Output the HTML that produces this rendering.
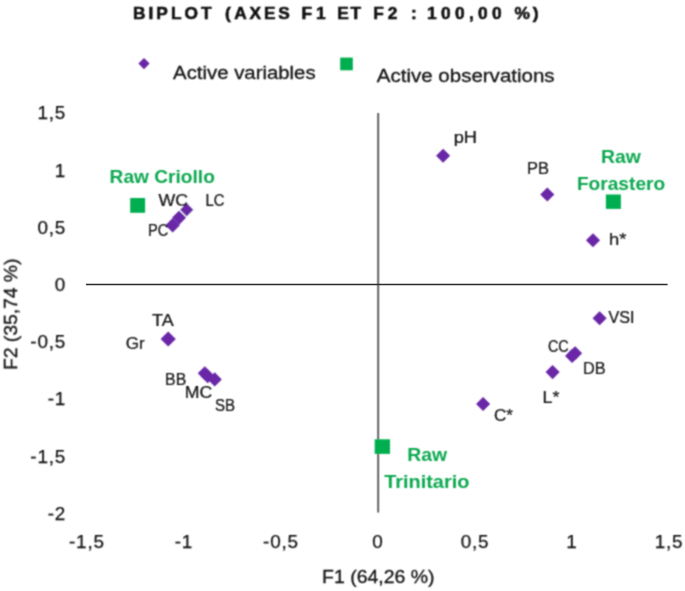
<!DOCTYPE html>
<html lang="fr"><head><meta charset="utf-8"><title>Biplot</title>
<style>
html,body{margin:0;padding:0;background:#fff;}
body{width:685px;height:591px;overflow:hidden;}
svg{display:block;font-family:"Liberation Sans",sans-serif;}
</style></head><body>
<svg width="685" height="591" viewBox="0 0 685 591">
<defs><filter id="soft" x="0" y="0" width="685" height="591" filterUnits="userSpaceOnUse"><feConvolveMatrix order="3" kernelMatrix="1 2 1 2 6 2 1 2 1" divisor="18" edgeMode="duplicate" preserveAlpha="false"/></filter></defs>
<rect width="685" height="591" fill="#fff"/>
<g filter="url(#soft)">
<text transform="translate(132.9 18.7) scale(1.03 1)" x="0" y="0" font-size="16.8" fill="#0a0a0a" font-weight="bold" stroke="#0a0a0a" stroke-width="0.5" textLength="76.5" lengthAdjust="spacing">BIPLOT</text>
<text transform="translate(225.0 18.7) scale(1.03 1)" x="0" y="0" font-size="16.8" fill="#0a0a0a" font-weight="bold" stroke="#0a0a0a" stroke-width="0.5" textLength="5.4" lengthAdjust="spacing">(</text>
<text transform="translate(234.3 18.7) scale(1.03 1)" x="0" y="0" font-size="16.8" fill="#0a0a0a" font-weight="bold" stroke="#0a0a0a" stroke-width="0.5" textLength="53.9" lengthAdjust="spacing">AXES</text>
<text transform="translate(301.6 18.7) scale(1.03 1)" x="0" y="0" font-size="16.8" fill="#0a0a0a" font-weight="bold" stroke="#0a0a0a" stroke-width="0.5" textLength="23.3" lengthAdjust="spacing">F1</text>
<text transform="translate(337.2 18.7) scale(1.03 1)" x="0" y="0" font-size="16.8" fill="#0a0a0a" font-weight="bold" stroke="#0a0a0a" stroke-width="0.5" textLength="23.1" lengthAdjust="spacing">ET</text>
<text transform="translate(373.2 18.7) scale(1.03 1)" x="0" y="0" font-size="16.8" fill="#0a0a0a" font-weight="bold" stroke="#0a0a0a" stroke-width="0.5" textLength="23.4" lengthAdjust="spacing">F2</text>
<text transform="translate(411 18.7) scale(1.03 1)" x="0" y="0" font-size="16.8" fill="#0a0a0a" font-weight="bold" stroke="#0a0a0a" stroke-width="0.5" textLength="3.9" lengthAdjust="spacing">:</text>
<text transform="translate(427.1 18.7) scale(1.03 1)" x="0" y="0" font-size="16.8" fill="#0a0a0a" font-weight="bold" stroke="#0a0a0a" stroke-width="0.5" textLength="72.3" lengthAdjust="spacing">100,00</text>
<text transform="translate(514.5 18.7) scale(1.03 1)" x="0" y="0" font-size="16.8" fill="#0a0a0a" font-weight="bold" stroke="#0a0a0a" stroke-width="0.5" textLength="23.4" lengthAdjust="spacing">%)</text>
<path d="M144 58.0L149.6 63.6L144 69.2L138.4 63.6Z" fill="#6927a7"/>
<text x="173.1" y="79.4" font-size="19.2" fill="#141414" font-weight="normal" textLength="142.5" lengthAdjust="spacingAndGlyphs" stroke="#141414" stroke-width="0.3">Active variables</text>
<rect x="340.2" y="57.6" width="12.6" height="12.7" fill="#04ae50"/>
<text x="376.8" y="82.4" font-size="19.2" fill="#141414" font-weight="normal" textLength="177.8" lengthAdjust="spacingAndGlyphs" stroke="#141414" stroke-width="0.3">Active observations</text>
<line x1="378.2" y1="113" x2="378.2" y2="512.5" stroke="#585858" stroke-width="1.9"/>
<text x="66.1" y="119.3" letter-spacing="0.8" font-size="18.9" fill="#141414" stroke="#141414" stroke-width="0.25" text-anchor="end">1,5</text>
<text x="66.1" y="176.5" letter-spacing="0.8" font-size="18.9" fill="#141414" stroke="#141414" stroke-width="0.25" text-anchor="end">1</text>
<text x="66.1" y="233.7" letter-spacing="0.8" font-size="18.9" fill="#141414" stroke="#141414" stroke-width="0.25" text-anchor="end">0,5</text>
<text x="66.1" y="290.9" letter-spacing="0.8" font-size="18.9" fill="#141414" stroke="#141414" stroke-width="0.25" text-anchor="end">0</text>
<text x="66.1" y="348.1" letter-spacing="0.8" font-size="18.9" fill="#141414" stroke="#141414" stroke-width="0.25" text-anchor="end">-0,5</text>
<text x="66.1" y="405.4" letter-spacing="0.8" font-size="18.9" fill="#141414" stroke="#141414" stroke-width="0.25" text-anchor="end">-1</text>
<text x="66.1" y="462.6" letter-spacing="0.8" font-size="18.9" fill="#141414" stroke="#141414" stroke-width="0.25" text-anchor="end">-1,5</text>
<text x="66.1" y="519.8" letter-spacing="0.8" font-size="18.9" fill="#141414" stroke="#141414" stroke-width="0.25" text-anchor="end">-2</text>
<text x="86.9" y="547.7" letter-spacing="0.8" font-size="18.9" fill="#141414" stroke="#141414" stroke-width="0.25" text-anchor="middle">-1,5</text>
<text x="183.9" y="547.7" letter-spacing="0.8" font-size="18.9" fill="#141414" stroke="#141414" stroke-width="0.25" text-anchor="middle">-1</text>
<text x="281.0" y="547.7" letter-spacing="0.8" font-size="18.9" fill="#141414" stroke="#141414" stroke-width="0.25" text-anchor="middle">-0,5</text>
<text x="378.0" y="547.7" letter-spacing="0.8" font-size="18.9" fill="#141414" stroke="#141414" stroke-width="0.25" text-anchor="middle">0</text>
<text x="475.0" y="547.7" letter-spacing="0.8" font-size="18.9" fill="#141414" stroke="#141414" stroke-width="0.25" text-anchor="middle">0,5</text>
<text x="572.0" y="547.7" letter-spacing="0.8" font-size="18.9" fill="#141414" stroke="#141414" stroke-width="0.25" text-anchor="middle">1</text>
<text x="669.1" y="547.7" letter-spacing="0.8" font-size="18.9" fill="#141414" stroke="#141414" stroke-width="0.25" text-anchor="middle">1,5</text>
<text x="322" y="582.7" font-size="18.1" fill="#141414" font-weight="normal" textLength="112.6" lengthAdjust="spacingAndGlyphs" stroke="#141414" stroke-width="0.3">F1 (64,26 %)</text>
<g transform="translate(17.0 369.9) rotate(-90)"><text x="0" y="0" font-size="18.1" fill="#141414" font-weight="normal" textLength="111.4" lengthAdjust="spacingAndGlyphs" stroke="#141414" stroke-width="0.3">F2 (35,74 %)</text></g>
<path d="M443.1 148.64999999999998L450.15000000000003 155.7L443.1 162.75L436.05 155.7Z" fill="#6927a7"/>
<path d="M547.3 187.45L554.3499999999999 194.5L547.3 201.55L540.25 194.5Z" fill="#6927a7"/>
<path d="M593 233.14999999999998L600.05 240.2L593 247.25L585.95 240.2Z" fill="#6927a7"/>
<path d="M599.6 311.15L606.65 318.2L599.6 325.25L592.5500000000001 318.2Z" fill="#6927a7"/>
<path d="M575.1 346.15L582.15 353.2L575.1 360.25L568.0500000000001 353.2Z" fill="#6927a7"/>
<path d="M572.1 348.84999999999997L579.15 355.9L572.1 362.95L565.0500000000001 355.9Z" fill="#6927a7"/>
<path d="M552.6 365.05L559.65 372.1L552.6 379.15000000000003L545.5500000000001 372.1Z" fill="#6927a7"/>
<path d="M483.1 396.95L490.15000000000003 404L483.1 411.05L476.05 404Z" fill="#6927a7"/>
<path d="M204.8 366.25L211.85000000000002 373.3L204.8 380.35L197.75 373.3Z" fill="#6927a7"/>
<path d="M207.7 369.15L214.75 376.2L207.7 383.25L200.64999999999998 376.2Z" fill="#6927a7"/>
<path d="M214.7 372.34999999999997L221.75 379.4L214.7 386.45L207.64999999999998 379.4Z" fill="#6927a7"/>
<path d="M179.2 210.54999999999998L186.25 217.6L179.2 224.65L172.14999999999998 217.6Z" fill="#6927a7"/>
<path d="M172.7 218.10000000000002L179.89999999999998 225.3L172.7 232.5L165.5 225.3Z" fill="#6927a7"/>
<path d="M168.2 331.4L175.79999999999998 339L168.2 346.6L160.6 339Z" fill="#6927a7"/>
<path d="M186.7 201.6L194.8 209.7L186.7 217.8L178.6 209.7Z" fill="#fff"/>
<path d="M186.7 203.0L193.39999999999998 209.7L186.7 216.39999999999998L180.0 209.7Z" fill="#6927a7"/>
<rect x="130.2" y="198.0" width="14.9" height="14.8" fill="#04ae50"/>
<rect x="605.9" y="194.5" width="15.0" height="14.4" fill="#04ae50"/>
<rect x="374.7" y="439.3" width="15.3" height="14.6" fill="#04ae50"/>
<text x="109.6" y="183.1" font-size="17.8" fill="#0aa84f" font-weight="bold" textLength="105.3" lengthAdjust="spacingAndGlyphs">Raw Criollo</text>
<text x="601.0" y="163.2" font-size="17.8" fill="#0aa84f" font-weight="bold" textLength="39.8" lengthAdjust="spacingAndGlyphs">Raw</text>
<text x="576.9" y="189.8" font-size="17.8" fill="#0aa84f" font-weight="bold" textLength="88.3" lengthAdjust="spacingAndGlyphs">Forastero</text>
<text x="407.2" y="461.2" font-size="17.8" fill="#0aa84f" font-weight="bold" textLength="39.8" lengthAdjust="spacingAndGlyphs">Raw</text>
<text x="384.2" y="488.2" font-size="17.8" fill="#0aa84f" font-weight="bold" textLength="85.2" lengthAdjust="spacingAndGlyphs">Trinitario</text>
<text x="453.7" y="142.9" font-size="17" fill="#0c0c0c" font-weight="normal" textLength="23.4" lengthAdjust="spacingAndGlyphs" stroke="#0c0c0c" stroke-width="0.2">pH</text>
<text x="527.1" y="173.6" font-size="17" fill="#0c0c0c" font-weight="normal" textLength="22.0" lengthAdjust="spacingAndGlyphs" stroke="#0c0c0c" stroke-width="0.2">PB</text>
<text x="609.0" y="244.8" font-size="17" fill="#0c0c0c" font-weight="normal" textLength="17.4" lengthAdjust="spacingAndGlyphs" stroke="#0c0c0c" stroke-width="0.2">h*</text>
<text x="608.4" y="323.0" font-size="17" fill="#0c0c0c" font-weight="normal" textLength="26.0" lengthAdjust="spacingAndGlyphs" stroke="#0c0c0c" stroke-width="0.2">VSI</text>
<text x="547.9" y="351.9" font-size="17" fill="#0c0c0c" font-weight="normal" textLength="20.9" lengthAdjust="spacingAndGlyphs" stroke="#0c0c0c" stroke-width="0.2">CC</text>
<text x="583.0" y="373.6" font-size="17" fill="#0c0c0c" font-weight="normal" textLength="22.6" lengthAdjust="spacingAndGlyphs" stroke="#0c0c0c" stroke-width="0.2">DB</text>
<text x="542.5" y="402.8" font-size="17" fill="#0c0c0c" font-weight="normal" textLength="16.9" lengthAdjust="spacingAndGlyphs" stroke="#0c0c0c" stroke-width="0.2">L*</text>
<text x="493.9" y="421.3" font-size="17" fill="#0c0c0c" font-weight="normal" textLength="19.1" lengthAdjust="spacingAndGlyphs" stroke="#0c0c0c" stroke-width="0.2">C*</text>
<text x="152.0" y="325.9" font-size="17" fill="#0c0c0c" font-weight="normal" textLength="21.6" lengthAdjust="spacingAndGlyphs" stroke="#0c0c0c" stroke-width="0.2">TA</text>
<text x="125.7" y="348.7" font-size="17" fill="#0c0c0c" font-weight="normal" textLength="19.0" lengthAdjust="spacingAndGlyphs" stroke="#0c0c0c" stroke-width="0.2">Gr</text>
<text x="165.1" y="385.0" font-size="17" fill="#0c0c0c" font-weight="normal" textLength="21.2" lengthAdjust="spacingAndGlyphs" stroke="#0c0c0c" stroke-width="0.2">BB</text>
<text x="184.8" y="397.6" font-size="17" fill="#0c0c0c" font-weight="normal" textLength="27.5" lengthAdjust="spacingAndGlyphs" stroke="#0c0c0c" stroke-width="0.2">MC</text>
<text x="215.0" y="411.3" font-size="17" fill="#0c0c0c" font-weight="normal" textLength="20.1" lengthAdjust="spacingAndGlyphs" stroke="#0c0c0c" stroke-width="0.2">SB</text>
<text x="158.4" y="206.0" font-size="17" fill="#0c0c0c" font-weight="normal" textLength="29.6" lengthAdjust="spacingAndGlyphs" stroke="#0c0c0c" stroke-width="0.2">WC</text>
<text x="205.6" y="206.4" font-size="17" fill="#0c0c0c" font-weight="normal" textLength="19.0" lengthAdjust="spacingAndGlyphs" stroke="#0c0c0c" stroke-width="0.2">LC</text>
<text x="148.0" y="236.4" font-size="17" fill="#0c0c0c" font-weight="normal" textLength="20.4" lengthAdjust="spacingAndGlyphs" stroke="#0c0c0c" stroke-width="0.2">PC</text>
</g>
<line x1="85.9" y1="284.4" x2="667.6" y2="284.4" stroke="#2a2a2a" stroke-width="1.5"/>
</svg></body></html>
